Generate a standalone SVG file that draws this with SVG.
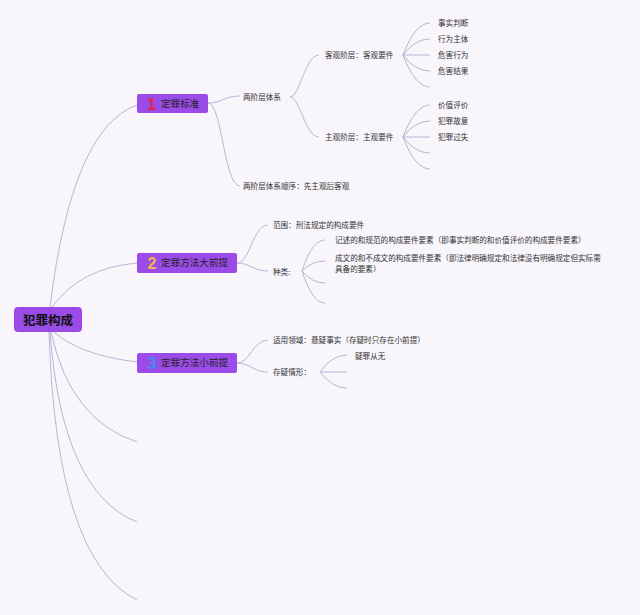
<svg xmlns="http://www.w3.org/2000/svg" width="640" height="615" viewBox="0 0 640 615">
<style>
.bg{fill:#f8f5fb}
.box{fill:#9b4ce8}
.ln{fill:none;stroke:#b4acd4;stroke-width:0.9}
.t{font-family:"Noto Sans CJK SC","Noto Sans",sans-serif;font-size:7.6px;fill:#333}
.nt{font-family:"Noto Sans CJK SC","Noto Sans",sans-serif;font-size:9.6px;fill:#222}
.num{font-family:"Liberation Sans","Noto Sans",sans-serif;font-size:16px;font-weight:bold}
.rt{font-family:"Noto Sans CJK SC","Noto Sans",sans-serif;font-size:12.5px;font-weight:bold;fill:#111}
</style>
<rect class="bg" x="0" y="0" width="640" height="615"/>
<g id="connectors">
<path class="ln" d="M50,307 Q72,128 137,105"/>
<path class="ln" d="M52,307 Q80,268 137,263"/>
<path class="ln" d="M54,332 Q80,355 137,362"/>
<path class="ln" d="M51,332 Q70,420 137,442"/>
<path class="ln" d="M50,332 Q62,492 137,522"/>
<path class="ln" d="M49,332 Q56,560 137,600"/>
<path class="ln" d="M208,103 C222,103 224,96 240,96"/>
<path class="ln" d="M208,103 C222,103 224,186 240,186"/>
<path class="ln" d="M290,97 C300,97 305,55 319,55"/>
<path class="ln" d="M290,97 C300,97 305,137 319,137"/>
<path class="ln" d="M403,55 Q415,23 430,23"/>
<path class="ln" d="M403,55 Q415,39 430,39"/>
<path class="ln" d="M403,55 L430,55"/>
<path class="ln" d="M403,55 Q415,71 430,71"/>
<path class="ln" d="M403,55 Q415,87 430,87"/>
<path class="ln" d="M403,137 Q415,105 430,105"/>
<path class="ln" d="M403,137 Q415,121 430,121"/>
<path class="ln" d="M403,137 L430,137"/>
<path class="ln" d="M403,137 Q415,153 430,153"/>
<path class="ln" d="M403,137 Q415,169 430,169"/>
<path class="ln" d="M237,263 C250,263 253,225 268,225"/>
<path class="ln" d="M237,263 C250,263 253,271 268,271"/>
<path class="ln" d="M302,271 Q312,240 325,240"/>
<path class="ln" d="M302,271 Q312,261 325,261"/>
<path class="ln" d="M302,271 Q312,283 325,283"/>
<path class="ln" d="M302,271 Q312,303 325,303"/>
<path class="ln" d="M237,363 C250,363 253,340 268,340"/>
<path class="ln" d="M237,363 C250,363 253,372 268,372"/>
<path class="ln" d="M320,372 Q332,355 347,355"/>
<path class="ln" d="M320,372 L347,372"/>
<path class="ln" d="M320,372 Q332,388 347,388"/>
</g>
<g id="root">
<rect class="box" x="14" y="307" width="68" height="25" rx="4"/>
<text class="rt" x="48" y="324.5" text-anchor="middle">犯罪构成</text>
</g>
<g id="n1">
<rect class="box" x="137" y="94" width="71" height="19" rx="2"/>
<text class="num" x="151.5" y="109.5" text-anchor="middle" fill="#e8213c">1</text>
<text class="nt" x="161" y="106.8">定罪标准</text>
</g>
<g id="n2">
<rect class="box" x="137" y="253" width="100" height="20" rx="2"/>
<text class="num" x="152" y="269" text-anchor="middle" fill="#f6b84a">2</text>
<text class="nt" x="161" y="266.3">定罪方法大前提</text>
</g>
<g id="n3">
<rect class="box" x="137" y="353" width="100" height="20" rx="2"/>
<text class="num" x="152" y="369" text-anchor="middle" fill="#3f8ff0">3</text>
<text class="nt" x="161" y="366.3">定罪方法小前提</text>
</g>
<g id="n1a"><text class="t" x="243" y="100">两阶层体系</text></g>
<g id="n1b"><text class="t" x="243" y="189">两阶层体系顺序：先主观后客观</text></g>
<g id="n1a1"><text class="t" x="325" y="58">客观阶层：客观要件</text></g>
<g id="n1a2"><text class="t" x="325" y="140">主观阶层：主观要件</text></g>
<g id="k1"><text class="t" x="438" y="26">事实判断</text></g>
<g id="k2"><text class="t" x="438" y="42">行为主体</text></g>
<g id="k3"><text class="t" x="438" y="58">危害行为</text></g>
<g id="k4"><text class="t" x="438" y="74">危害结果</text></g>
<g id="z1"><text class="t" x="438" y="108">价值评价</text></g>
<g id="z2"><text class="t" x="438" y="124">犯罪故意</text></g>
<g id="z3"><text class="t" x="438" y="140">犯罪过失</text></g>
<g id="n2a"><text class="t" x="273" y="228">范围：刑法规定的构成要件</text></g>
<g id="n2b"><text class="t" x="273" y="274.5">种类:</text></g>
<g id="n2b1"><text class="t" x="335" y="243">记述的和规范的构成要件要素（即事实判断的和价值评价的构成要件要素）</text></g>
<g id="n2b2"><text class="t" x="335" y="261">成文的和不成文的构成要件要素（即法律明确规定和法律没有明确规定但实际需</text><text class="t" x="335" y="271.5">具备的要素）</text></g>
<g id="n3a"><text class="t" x="273" y="343">适用领域：悬疑事实（存疑时只存在小前提）</text></g>
<g id="n3b"><text class="t" x="273" y="375">存疑情形：</text></g>
<g id="n3b1"><text class="t" x="355" y="358.5">疑罪从无</text></g>
</svg>
